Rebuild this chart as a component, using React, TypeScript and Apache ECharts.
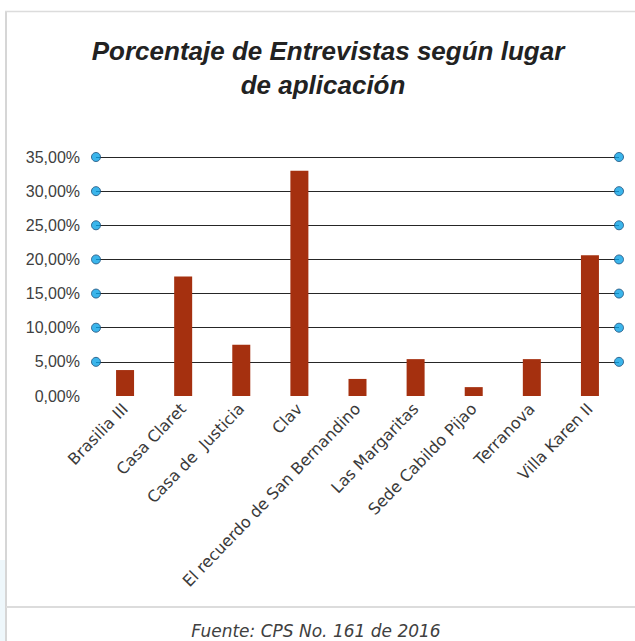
import React, { useEffect, useRef } from "react";
import * as echarts from "echarts";

const categories = [
  "Brasilia III",
  "Casa Claret",
  "Casa de  Justicia",
  "Clav",
  "El recuerdo de San Bernandino",
  "Las Margaritas",
  "Sede Cabildo Pijao",
  "Terranova",
  "Villa Karen II",
];
const percentValues = [3.8, 17.5, 7.5, 33.0, 2.5, 5.4, 1.3, 5.4, 20.6];
const gridMarkValues = [5, 10, 15, 20, 25, 30, 35];
const titleLines = ["Porcentaje de Entrevistas según lugar", "de aplicación"];
const sourceText = "Fuente: CPS No. 161 de 2016";

export default function App() {
  const ref = useRef<HTMLDivElement>(null);

  useEffect(() => {
    if (!ref.current) return;
    const chart = echarts.init(ref.current, undefined, { renderer: "svg" });

    const dots: number[][] = [];
    gridMarkValues.forEach((v) => {
      dots.push([0, v]);
      dots.push([1, v]);
    });

    chart.setOption({
      animation: false,
      backgroundColor: "#ffffff",
      grid: { left: 96, right: 16, top: 157, bottom: 245, containLabel: false },
      xAxis: [
        {
          type: "category",
          data: categories,
          axisLine: { show: false },
          axisTick: { show: false },
          axisLabel: {
            rotate: 46,
            interval: 0,
            margin: 10,
            fontSize: 16,
            color: "#3a3a3a",
            fontFamily: "DejaVu Sans",
          },
        },
        { type: "value", min: 0, max: 1, show: false },
      ],
      yAxis: {
        type: "value",
        min: 0,
        max: 35,
        interval: 5,
        axisLine: { show: false },
        axisTick: { show: false },
        axisLabel: {
          margin: 16,
          fontSize: 16,
          color: "#404040",
          fontFamily: "Liberation Sans",
          formatter: (v: number) => v.toFixed(2).replace(".", ",") + "%",
        },
        splitLine: {
          show: true,
          showMinLine: false,
          lineStyle: { color: "#262626", width: 1 },
        },
      },
      series: [
        {
          type: "bar",
          data: percentValues,
          barWidth: 18,
          itemStyle: { color: "#A5300F" },
        },
        {
          type: "scatter",
          xAxisIndex: 1,
          data: dots,
          symbol: "circle",
          symbolSize: 9,
          clip: false,
          silent: true,
          z: 5,
          itemStyle: { color: "#0AA3E6", borderColor: "#1D4F7A", borderWidth: 1 },
        },
      ],
      graphic: [
        { type: "rect", shape: { x: 0, y: 560, width: 5, height: 81 }, style: { fill: "#eef7fb" }, silent: true },
        { type: "line", shape: { x1: 6, y1: 11, x2: 6, y2: 641 }, style: { stroke: "#d6d6d6", lineWidth: 2 }, silent: true },
        { type: "line", shape: { x1: 5, y1: 11.5, x2: 635, y2: 11.5 }, style: { stroke: "#dcdcdc", lineWidth: 1.5 }, silent: true },
        { type: "line", shape: { x1: 6, y1: 607, x2: 635, y2: 607 }, style: { stroke: "#dcdcdc", lineWidth: 2 }, silent: true },
        {
          type: "text",
          x: 328,
          y: 51,
          style: {
            text: titleLines[0],
            font: "italic bold 26px 'Liberation Sans'",
            fill: "#222222",
            textAlign: "center",
            textVerticalAlign: "middle",
          },
        },
        {
          type: "text",
          x: 323,
          y: 85,
          style: {
            text: titleLines[1],
            font: "italic bold 26px 'Liberation Sans'",
            fill: "#222222",
            textAlign: "center",
            textVerticalAlign: "middle",
          },
        },
        {
          type: "text",
          x: 316,
          y: 631,
          style: {
            text: sourceText,
            font: "italic 17px 'DejaVu Sans'",
            fill: "#404040",
            textAlign: "center",
            textVerticalAlign: "middle",
          },
        },
      ],
    });

    return () => chart.dispose();
  }, []);

  return (
    <div
      ref={ref}
      style={{ position: "absolute", left: 0, top: 0, width: 635, height: 641 }}
    />
  );
}
